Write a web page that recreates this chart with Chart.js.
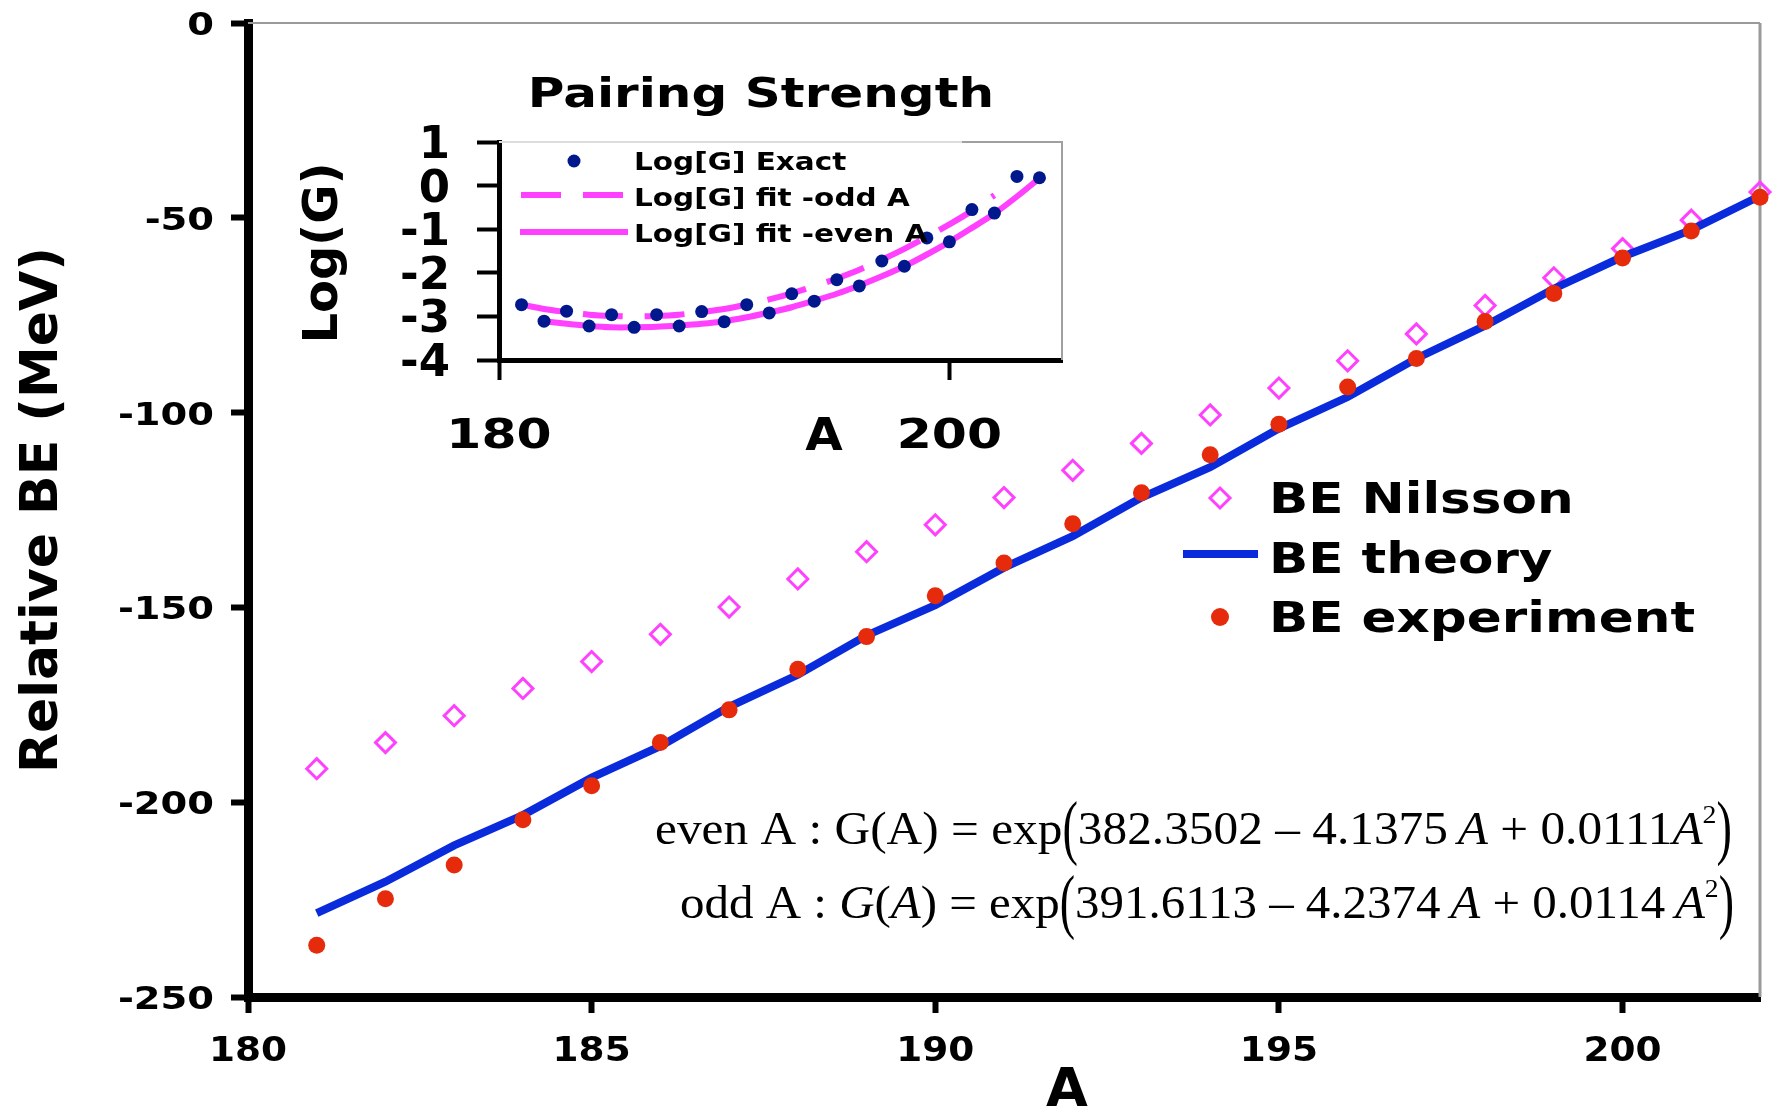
<!DOCTYPE html>
<html lang="en">
<head>
<meta charset="utf-8">
<title>Relative BE vs A</title>
<script src="https://cdn.jsdelivr.net/npm/chart.js@4.4.1/dist/chart.umd.min.js"></script>
<style>
  html, body { margin:0; padding:0; background:#fff; overflow:hidden; }
  #wrap { position:relative; width:1773px; height:1108px; }
  #main { position:absolute; left:0; top:0; }
  #inset { position:absolute; left:260px; top:40px; }
</style>
</head>
<body>
<div id="wrap">
  <canvas id="main" width="1773" height="1108"></canvas>
  <canvas id="inset" width="820" height="430"></canvas>
</div>

<script>
// ---- main chart data ----
var massA = [181,182,183,184,185,186,187,188,189,190,191,192,193,194,195,196,197,198,199,200,201,202];
var beNilsson = [-191.4,-184.7,-177.8,-170.8,-163.9,-156.9,-149.9,-142.7,-135.7,-128.8,-121.8,-114.8,-107.9,-100.6,-93.7,-86.7,-79.8,-72.5,-65.4,-57.9,-50.6,-43.4];
var theoryA = [181,182,183,184,185,186,187,188,189,190,191,192,193,194,195,196,197,198,199,200,201,202,203];
var beTheory = [-228.5,-220.4,-211.1,-203.3,-193.7,-185.6,-175.5,-167.3,-157.2,-149.4,-139.8,-131.7,-121.8,-114.0,-104.1,-96.0,-86.1,-77.7,-68.2,-60.0,-53.1,-44.4,-67];
var beExperiment = [-236.7,-224.8,-216.1,-204.5,-195.8,-184.7,-176.3,-165.9,-157.5,-147.0,-138.6,-128.5,-120.6,-110.8,-103.0,-93.4,-86.1,-76.6,-69.4,-60.3,-53.4,-44.7];
var mainXTicks = [180,185,190,195,200];
var mainYTicks = [0,-50,-100,-150,-200,-250];

// ---- inset data ----
var logA = [181,182,183,184,185,186,187,188,189,190,191,192,193,194,195,196,197,198,199,200,201,202,203,204];
var logGExact = [-2.73,-3.11,-2.88,-3.22,-2.96,-3.25,-2.96,-3.22,-2.89,-3.12,-2.73,-2.92,-2.48,-2.65,-2.16,-2.30,-1.73,-1.85,-1.20,-1.29,-0.55,-0.63,0.21,0.18];
var oddFitA = [181,182,183,184,185,186,187,188,189,190,191,192,193,194,195,196,197,198,199,200,201,202];
var logGFitOdd = [-2.73,-2.83,-2.90,-2.96,-2.99,-3.00,-2.99,-2.96,-2.90,-2.83,-2.73,-2.61,-2.47,-2.31,-2.13,-1.93,-1.70,-1.45,-1.18,-0.89,-0.58,-0.22];
var evenFitA = [182,183,184,185,186,187,188,189,190,191,192,193,194,195,196,197,198,199,200,201,202,203,204];
var logGFitEven = [-3.11,-3.17,-3.22,-3.25,-3.25,-3.24,-3.21,-3.17,-3.11,-3.02,-2.91,-2.79,-2.64,-2.48,-2.29,-2.08,-1.85,-1.58,-1.29,-0.97,-0.64,-0.25,0.17];
var insetXTicks = [180,200];
var insetYTicks = [1,0,-1,-2,-3,-4];

var BLUE = '#0a2bdc', RED = '#e62b0c', MAG = '#ff40ff', NAVY = '#00188c';
var SANS = '"DejaVu Sans"', SERIF = '"Liberation Serif"';

function pts(xs, ys) {
  return xs.map(function (x, i) { return { x: x, y: ys[i] }; });
}
function setTicks(list) {
  return function (s) { s.ticks = list.map(function (v) { return { value: v }; }); };
}

// bold sans text, stretched sideways like the original
function txt(ctx, s, x, y, o) {
  ctx.save();
  ctx.translate(x, y);
  if (o.rot) ctx.rotate(o.rot);
  ctx.scale(o.sx || 1, 1);
  ctx.font = 'bold ' + o.size + 'px ' + SANS;
  ctx.textAlign = o.align || 'center';
  ctx.textBaseline = o.base || 'alphabetic';
  ctx.fillStyle = '#000';
  ctx.fillText(s, 0, 0);
  ctx.restore();
}

// serif formula from pieces, fitted between x0 and x1
function formula(ctx, segs, x0, x1, base, size) {
  function f(s) { return (s.it ? 'italic ' : '') + (s.size || size) + 'px ' + SERIF; }
  var w = 0;
  segs.forEach(function (s) { ctx.font = f(s); w += ctx.measureText(s.t).width * (s.sq || 1); });
  ctx.save();
  ctx.translate(x0, base);
  ctx.scale((x1 - x0) / w, 1);
  ctx.fillStyle = '#000';
  ctx.textBaseline = 'alphabetic';
  ctx.textAlign = 'left';
  var x = 0;
  segs.forEach(function (s) {
    ctx.save();
    ctx.translate(x, s.dy || 0);
    ctx.scale(s.sq || 1, 1);
    ctx.font = f(s);
    ctx.fillText(s.t, 0, 0);
    var sw = ctx.measureText(s.t).width;
    ctx.restore();
    x += sw * (s.sq || 1);
  });
  ctx.restore();
}

var bigL = { t: '(', size: 72, dy: 7, sq: 0.6 }, bigR = { t: ')', size: 72, dy: 7, sq: 0.6 };
var evenEq = [
  { t: 'even A : G(A) = exp' }, bigL, { t: '382.3502 \u2013 4.1375\u2009' }, { t: 'A', it: true },
  { t: ' + 0.0111' }, { t: 'A', it: true }, { t: '2', size: 26, dy: -21 }, bigR
];
var oddEq = [
  { t: 'odd A : ' }, { t: 'G', it: true }, { t: '(' }, { t: 'A', it: true }, { t: ')' },
  { t: ' = exp' }, bigL, { t: '391.6113 \u2013 4.2374\u2009' }, { t: 'A', it: true },
  { t: ' + 0.0114\u2009' }, { t: 'A', it: true }, { t: '2', size: 26, dy: -21 }, bigR
];

var mainDeco = {
  id: 'mainDeco',
  beforeDatasetsDraw: function (chart) {
    var ctx = chart.ctx, a = chart.chartArea;
    ctx.save();
    ctx.strokeStyle = '#9a9a9a';
    ctx.lineWidth = 2;
    ctx.beginPath(); ctx.moveTo(a.left, a.top); ctx.lineTo(a.right, a.top); ctx.stroke();
    ctx.lineWidth = 3;
    ctx.beginPath(); ctx.moveTo(a.right, a.top); ctx.lineTo(a.right, a.bottom); ctx.stroke();
    ctx.restore();
  },
  afterDraw: function (chart) {
    var ctx = chart.ctx, xs = chart.scales.x, ys = chart.scales.y;
    ys.ticks.forEach(function (t) {
      txt(ctx, String(t.value), 214, ys.getPixelForValue(t.value) + 12, { size: 32, sx: 1.2, align: 'right' });
    });
    xs.ticks.forEach(function (t) {
      txt(ctx, String(t.value), xs.getPixelForValue(t.value), 1061, { size: 34, sx: 1.1 });
    });
    txt(ctx, 'Relative BE (MeV)', 43, 510, { size: 52, rot: -Math.PI / 2, base: 'middle' });
    txt(ctx, 'A', 1067, 1106, { size: 54 });

    // legend
    ctx.save();
    ctx.strokeStyle = MAG; ctx.lineWidth = 3;
    ctx.beginPath();
    ctx.moveTo(1210, 498); ctx.lineTo(1220, 488); ctx.lineTo(1230, 498); ctx.lineTo(1220, 508);
    ctx.closePath(); ctx.stroke();
    ctx.strokeStyle = BLUE; ctx.lineWidth = 8;
    ctx.beginPath(); ctx.moveTo(1183, 554); ctx.lineTo(1258, 554); ctx.stroke();
    ctx.fillStyle = RED;
    ctx.beginPath(); ctx.arc(1220, 617, 9, 0, Math.PI * 2); ctx.fill();
    ctx.restore();
    txt(ctx, 'BE Nilsson', 1269, 513, { size: 43, sx: 1.2, align: 'left' });
    txt(ctx, 'BE theory', 1269, 573, { size: 43, sx: 1.2, align: 'left' });
    txt(ctx, 'BE experiment', 1269, 632, { size: 43, sx: 1.2, align: 'left' });

    formula(ctx, evenEq, 655, 1732, 844, 46);
    formula(ctx, oddEq, 680, 1734, 918, 46);
  }
};

var insetDeco = {
  id: 'insetDeco',
  beforeDatasetsDraw: function (chart) {
    var ctx = chart.ctx, a = chart.chartArea;
    ctx.save();
    ctx.lineWidth = 2;
    ctx.strokeStyle = '#dcdcdc';
    ctx.beginPath(); ctx.moveTo(a.left, a.top); ctx.lineTo(702, a.top); ctx.stroke();
    ctx.strokeStyle = '#a0a0a0';
    ctx.beginPath(); ctx.moveTo(702, a.top); ctx.lineTo(a.right, a.top); ctx.lineTo(a.right, a.bottom); ctx.stroke();
    ctx.restore();
  },
  afterDraw: function (chart) {
    var ctx = chart.ctx, xs = chart.scales.x, ys = chart.scales.y;
    ys.ticks.forEach(function (t) {
      txt(ctx, String(t.value), 190, ys.getPixelForValue(t.value) + 16, { size: 45, align: 'right' });
    });
    xs.ticks.forEach(function (t) {
      txt(ctx, String(t.value), xs.getPixelForValue(t.value), 408, { size: 41, sx: 1.23 });
    });
    txt(ctx, 'A', 564, 410, { size: 44, sx: 1.1 });
    txt(ctx, 'Log(G)', 65, 213, { size: 48, rot: -Math.PI / 2, base: 'middle' });
    txt(ctx, 'Pairing Strength', 501, 67, { size: 41, sx: 1.22 });

    ctx.save();
    ctx.fillStyle = NAVY;
    ctx.beginPath(); ctx.arc(314, 121, 6.5, 0, Math.PI * 2); ctx.fill();
    ctx.strokeStyle = MAG; ctx.lineWidth = 6;
    ctx.setLineDash([40, 22]);
    ctx.beginPath(); ctx.moveTo(261, 155); ctx.lineTo(366, 155); ctx.stroke();
    ctx.setLineDash([]);
    ctx.beginPath(); ctx.moveTo(260, 192); ctx.lineTo(368, 192); ctx.stroke();
    ctx.restore();
    txt(ctx, 'Log[G] Exact', 374, 130, { size: 25, sx: 1.18, align: 'left' });
    txt(ctx, 'Log[G] fit -odd A', 374, 166, { size: 25, sx: 1.18, align: 'left' });
    txt(ctx, 'Log[G] fit -even A', 374, 202, { size: 25, sx: 1.18, align: 'left' });
  }
};

new Chart(document.getElementById('main'), {
  type: 'scatter',
  data: {
    datasets: [
      { label: 'BE Nilsson', data: pts(massA, beNilsson), pointStyle: 'rectRot', pointRadius: 10,
        pointBorderColor: MAG, pointBackgroundColor: 'rgba(0,0,0,0)', pointBorderWidth: 3, order: 2, clip: false },
      { label: 'BE theory', data: pts(theoryA, beTheory), showLine: true, borderColor: BLUE, borderWidth: 8,
        pointRadius: 0, order: 1, clip: { left: 4, top: 4, right: 8, bottom: 4 } },
      { label: 'BE experiment', data: pts(massA, beExperiment), pointRadius: 8.5,
        pointBackgroundColor: RED, pointBorderColor: RED, pointBorderWidth: 0, order: 0, clip: false }
    ]
  },
  options: {
    responsive: false, animation: false, devicePixelRatio: 1,
    layout: { padding: { top: 23, right: 8, left: 0, bottom: 0 } },
    plugins: { legend: { display: false }, tooltip: { enabled: false } },
    scales: {
      x: {
        type: 'linear', min: 180, max: 202,
        afterBuildTicks: setTicks(mainXTicks),
        afterFit: function (s) { s.height = 111; },
        ticks: { display: false },
        grid: { drawOnChartArea: false, drawTicks: true, tickLength: 16, tickWidth: 6, tickColor: '#000' },
        border: { color: '#000', width: 9 }
      },
      y: {
        type: 'linear', min: -250, max: 0,
        afterBuildTicks: setTicks(mainYTicks),
        afterFit: function (s) { s.width = 248; },
        ticks: { display: false },
        grid: { drawOnChartArea: false, drawTicks: true, tickLength: 17, tickWidth: 6, tickColor: '#000' },
        border: { color: '#000', width: 9 }
      }
    }
  },
  plugins: [mainDeco]
});

new Chart(document.getElementById('inset'), {
  type: 'scatter',
  data: {
    datasets: [
      { label: 'Log[G] Exact', data: pts(logA, logGExact), pointRadius: 6.5,
        pointBackgroundColor: NAVY, pointBorderColor: NAVY, pointBorderWidth: 0, order: 0, clip: false },
      { label: 'Log[G] fit -odd A', data: pts(oddFitA, logGFitOdd), showLine: true, borderColor: MAG,
        borderWidth: 6, borderDash: [40, 22], pointRadius: 0, tension: 0.3, order: 1 },
      { label: 'Log[G] fit -even A', data: pts(evenFitA, logGFitEven), showLine: true, borderColor: MAG,
        borderWidth: 6, pointRadius: 0, tension: 0.3, order: 2 }
    ]
  },
  options: {
    responsive: false, animation: false, devicePixelRatio: 1,
    layout: { padding: { top: 102, right: 18, left: 0, bottom: 0 } },
    plugins: { legend: { display: false }, tooltip: { enabled: false } },
    scales: {
      x: {
        type: 'linear', min: 180, max: 205,
        afterBuildTicks: setTicks(insetXTicks),
        afterFit: function (s) { s.height = 110; },
        ticks: { display: false },
        grid: { drawOnChartArea: false, drawTicks: true, tickLength: 20, tickWidth: 4, tickColor: '#000' },
        border: { color: '#000', width: 5 }
      },
      y: {
        type: 'linear', min: -4, max: 1,
        afterBuildTicks: setTicks(insetYTicks),
        afterFit: function (s) { s.width = 239; },
        ticks: { display: false },
        grid: { drawOnChartArea: false, drawTicks: true, tickLength: 22, tickWidth: 4, tickColor: '#000' },
        border: { color: '#000', width: 5 }
      }
    }
  },
  plugins: [insetDeco]
});
</script>
</body>
</html>
